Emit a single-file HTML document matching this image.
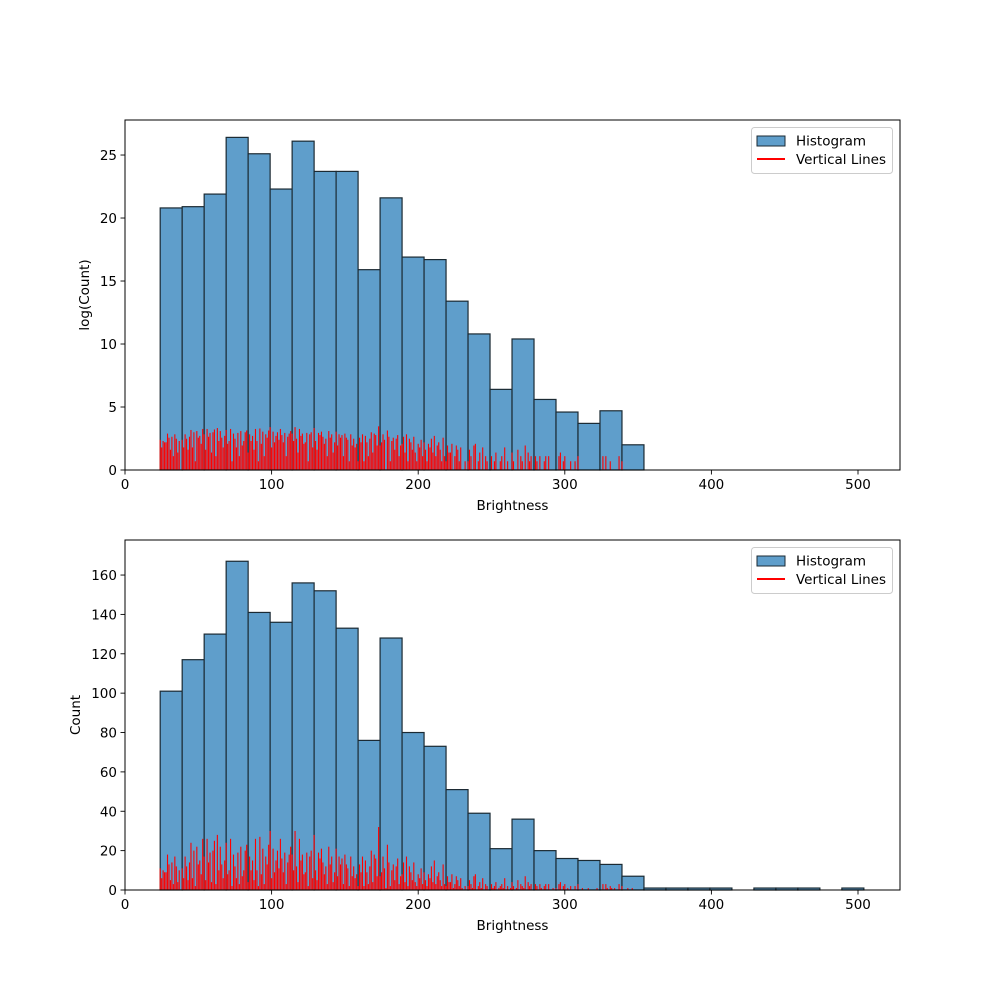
<!DOCTYPE html>
<html><head><meta charset="utf-8"><style>
body{margin:0;background:#fff;}
svg{display:block;font-family:"DejaVu Sans","Liberation Sans",sans-serif;}
</style></head><body>
<svg id="fig" width="1000" height="1000" xmlns="http://www.w3.org/2000/svg"></svg>
<script>
const binStart = 24, binWidth = 15;
const logHist = [20.8,20.9,21.9,26.4,25.1,22.3,26.1,23.7,23.7,15.9,21.6,16.9,16.7,13.4,10.8,6.4,10.4,5.6,4.6,3.7,4.7,2.0,0,0,0,0,0,0,0,0,0,0];
const countHist = [101,117,130,167,141,136,156,152,133,76,128,80,73,51,39,21,36,20,16,15,13,7,1,1,1,1,0,1,1,1,0,1];
const lineStart = 24;
const lineCounts = [
11,6,10,9,9,18,13,5,14,3,17,12,4,10,0,
11,6,17,12,5,14,24,6,20,2,22,13,15,8,26,
17,5,26,14,19,4,20,25,3,28,10,22,13,6,15,
24,8,10,26,2,18,12,6,19,3,22,7,10,20,23,
4,17,10,15,5,26,10,2,27,8,21,3,17,13,23,
30,6,21,9,15,20,11,26,16,9,19,3,14,18,22,
18,10,30,12,4,26,15,18,8,9,19,2,17,20,6,
28,10,5,19,16,21,14,8,12,3,22,13,17,4,9,
21,7,17,13,16,3,18,13,11,2,17,7,12,6,8,
2,13,9,17,2,15,9,3,12,20,4,18,16,7,32,
7,9,17,11,1,23,14,2,10,13,5,12,16,3,7,
8,14,4,17,2,12,9,5,14,4,2,8,6,11,3,
9,5,2,8,6,12,4,15,3,7,9,5,2,13,3,
2,7,4,4,8,1,3,7,5,2,6,1,0,2,0,
2,5,3,1,7,8,0,2,4,1,6,0,3,2,0,
0,3,1,2,4,0,1,2,3,1,6,0,2,0,1,
4,2,0,1,5,0,3,2,1,7,0,4,2,3,0,
0,3,2,0,3,1,0,2,3,0,3,0,0,1,0,
1,0,3,4,0,2,3,0,1,0,2,0,0,2,0,
3,0,0,1,0,0,0,1,0,0,0,0,0,1,0,
0,0,3,0,3,1,0,2,1,0,1,0,0,3,0,
2,0,0,0,1,0,0,1,0,0,0,0,0,0,0
];
const xTicks = [0,100,200,300,400,500];
const topYTicks = [0,5,10,15,20,25];
const botYTicks = [0,20,40,60,80,100,120,140,160];

const NS = "http://www.w3.org/2000/svg";
const svg = document.getElementById('fig');
function mk(tag, attrs, parent){const e=document.createElementNS(NS,tag);for(const k in attrs)e.setAttribute(k,attrs[k]);(parent||svg).appendChild(e);return e;}
const X0=125, X1=900;
function xs(v){return X0 + v*(733/500);}

function panel(name, top, bottom, ymax, hist, lineVals, yTicks, ylabel){
  const g = mk('g',{});
  
  
  const ys = v => bottom - v*(bottom-top)/ymax;
  hist.forEach((h,i)=>{
    if(h<=0) return;
    const x0=xs(binStart+i*binWidth), x1=xs(binStart+(i+1)*binWidth);
    const r = mk('rect',{x:x0,y:ys(h),width:x1-x0,height:bottom-ys(h),fill:'#5f9ecb',stroke:'#1b2a33','stroke-width':1.2},g);
    
    
  });
  lineVals.forEach((v,i)=>{
    if(v<=0) return;
    const x=xs(lineStart+i);
    const l = mk('line',{x1:x,x2:x,y1:bottom,y2:ys(v),stroke:'#ff0000','stroke-width':1.1},g);
    
    
  });
  const fr = mk('rect',{x:X0,y:top,width:X1-X0,height:bottom-top,fill:'none',stroke:'#000','stroke-width':1},g);
  
  
  xTicks.forEach(t=>{
    const x=xs(t);
    mk('line',{x1:x,x2:x,y1:bottom,y2:bottom+4.5,stroke:'#000','stroke-width':0.9},g);
    const tx=mk('text',{x:x,y:bottom+19,'text-anchor':'middle','font-size':13.5},g);
    tx.textContent=t;
    
    
  });
  yTicks.forEach(t=>{
    const y=ys(t);
    mk('line',{x1:X0-4.5,x2:X0,y1:y,y2:y,stroke:'#000','stroke-width':0.9},g);
    const tx=mk('text',{x:X0-8,y:y+5,'text-anchor':'end','font-size':13.5},g);
    tx.textContent=t;
    
    
  });
  const xl=mk('text',{x:(X0+X1)/2,y:bottom+40,'text-anchor':'middle','font-size':13.5},g);
  xl.textContent='Brightness';
  
  
  const cy=(top+bottom)/2, lx = yTicks[yTicks.length-1]>=100 ? 80 : 89;
  const yl=mk('text',{x:lx,y:cy,'text-anchor':'middle','font-size':13.5,transform:`rotate(-90 ${lx} ${cy})`},g);
  yl.textContent=ylabel;
  
  
  const lg = mk('g',{},g);
  
  
  mk('rect',{x:751.5,y:top+7.5,width:141,height:46,rx:3,fill:'#fff','fill-opacity':0.8,stroke:'#ccc'},lg);
  mk('rect',{x:757,y:top+16,width:28,height:10,fill:'#5f9ecb',stroke:'#1b2a33','stroke-width':1},lg);
  const t1=mk('text',{x:796,y:top+25.5,'font-size':13.5},lg);t1.textContent='Histogram';
  
  
  mk('line',{x1:757,x2:785,y1:top+39,y2:top+39,stroke:'#ff0000','stroke-width':2},lg);
  const t2=mk('text',{x:796,y:top+44,'font-size':13.5},lg);t2.textContent='Vertical Lines';
  
  
}
panel('top-log-histogram',120,470,27.78,logHist,lineCounts.map(c=>c>0?Math.log(c):0),topYTicks,'log(Count)');
panel('bottom-count-histogram',540,890,177.8,countHist,lineCounts,botYTicks,'Count');
</script>
</body></html>
